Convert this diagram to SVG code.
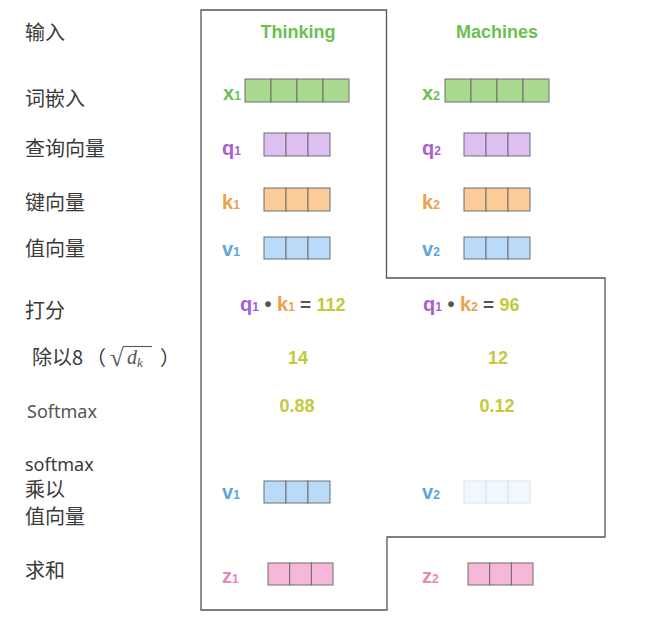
<svg xmlns="http://www.w3.org/2000/svg" width="658" height="638" viewBox="0 0 658 638">
<style>
.lab{font-family:"Noto Sans CJK SC","Noto Sans",sans-serif;font-size:20px;fill:#3a3a3a}
.sm{font-family:"Noto Sans","Noto Sans CJK SC",sans-serif;font-size:18px}
.b{font-family:"Liberation Sans",Arial,sans-serif;font-weight:bold}
.t{font-size:18px;fill:#6cbf4f}
.v{font-size:20px}
.s{font-size:12px}
.num{font-family:"Liberation Sans",Arial,sans-serif;font-weight:bold;font-size:18px;fill:#c4c93c}
.op{fill:#555}
.cell{stroke:#6e6e6e;stroke-width:1}
.g{fill:#a9d98f}.p{fill:#ddbff2}.o{fill:#fbcb99}.bl{fill:#b9daf8}.pk{fill:#f5b8d9}
.fd{fill:#eef8fd;stroke:#dbe6ea;stroke-width:1}
.cg{fill:#6cbf4f}.cp{fill:#a860d2}.co{fill:#f0a04c}.cb{fill:#5aa4e0}.cpk{fill:#e884b8}
</style>

<g id="frame">
<path d="M201,10 H386.5 V278 H605 V537 H387 V610 H201 Z" fill="none" stroke="#555" stroke-width="1.3"/>
</g>

<g id="connectors"></g>

<g id="row-labels">
<text class="lab" x="25" y="40">输入</text>
<text class="lab" x="25" y="106">词嵌入</text>
<text class="lab" x="25" y="156">查询向量</text>
<text class="lab" x="25" y="210">键向量</text>
<text class="lab" x="25" y="256">值向量</text>
<text class="lab" x="25" y="318">打分</text>
<text class="lab" x="32" y="365">除以8</text>
<text class="lab" x="86" y="365">（</text>
<text x="110" y="366" font-family="'Liberation Serif',serif" font-size="25" fill="#555">√</text>
<line x1="123" y1="346.5" x2="152" y2="346.5" stroke="#555" stroke-width="1.1"/>
<text x="127" y="364" font-family="'Liberation Serif',serif" font-style="italic" font-size="20" fill="#555">d<tspan font-size="13" dy="3">k</tspan></text>
<text class="lab" x="160" y="365">）</text>
<text class="lab sm" x="27" y="418" style="fill:#555">Softmax</text>
<text class="lab sm" x="25" y="471">softmax</text>
<text class="lab" x="25" y="497">乘以</text>
<text class="lab" x="25" y="524">值向量</text>
<text class="lab" x="25" y="578">求和</text>
</g>

<g id="title-thinking"><text class="b t" x="298" y="38" text-anchor="middle">Thinking</text></g>
<g id="title-machines"><text class="b t" x="497" y="38" text-anchor="middle">Machines</text></g>

<g id="x1">
<text class="b cg" x="223" y="100"><tspan class="v">x</tspan><tspan class="s">1</tspan></text>
<rect class="cell g" x="245" y="79" width="26" height="23"/><rect class="cell g" x="271" y="79" width="26" height="23"/><rect class="cell g" x="297" y="79" width="26" height="23"/><rect class="cell g" x="323" y="79" width="26" height="23"/>
</g>
<g id="x2">
<text class="b cg" x="422" y="100"><tspan class="v">x</tspan><tspan class="s">2</tspan></text>
<rect class="cell g" x="445" y="79" width="26" height="23"/><rect class="cell g" x="471" y="79" width="26" height="23"/><rect class="cell g" x="497" y="79" width="26" height="23"/><rect class="cell g" x="523" y="79" width="26" height="23"/>
</g>

<g id="q1">
<text class="b cp" x="222" y="155"><tspan class="v">q</tspan><tspan class="s">1</tspan></text>
<rect class="cell p" x="264" y="133" width="22" height="23"/><rect class="cell p" x="286" y="133" width="22" height="23"/><rect class="cell p" x="308" y="133" width="22" height="23"/>
</g>
<g id="q2">
<text class="b cp" x="422" y="155"><tspan class="v">q</tspan><tspan class="s">2</tspan></text>
<rect class="cell p" x="464" y="133" width="22" height="23"/><rect class="cell p" x="486" y="133" width="22" height="23"/><rect class="cell p" x="508" y="133" width="22" height="23"/>
</g>

<g id="k1">
<text class="b co" x="222" y="209"><tspan class="v">k</tspan><tspan class="s">1</tspan></text>
<rect class="cell o" x="264" y="188" width="22" height="23"/><rect class="cell o" x="286" y="188" width="22" height="23"/><rect class="cell o" x="308" y="188" width="22" height="23"/>
</g>
<g id="k2">
<text class="b co" x="422" y="209"><tspan class="v">k</tspan><tspan class="s">2</tspan></text>
<rect class="cell o" x="464" y="188" width="22" height="23"/><rect class="cell o" x="486" y="188" width="22" height="23"/><rect class="cell o" x="508" y="188" width="22" height="23"/>
</g>

<g id="v1">
<text class="b cb" x="222" y="256"><tspan class="v">v</tspan><tspan class="s">1</tspan></text>
<rect class="cell bl" x="264" y="237" width="22" height="22"/><rect class="cell bl" x="286" y="237" width="22" height="22"/><rect class="cell bl" x="308" y="237" width="22" height="22"/>
</g>
<g id="v2">
<text class="b cb" x="422" y="256"><tspan class="v">v</tspan><tspan class="s">2</tspan></text>
<rect class="cell bl" x="464" y="237" width="22" height="22"/><rect class="cell bl" x="486" y="237" width="22" height="22"/><rect class="cell bl" x="508" y="237" width="22" height="22"/>
</g>

<g id="score1">
<text class="b" x="240" y="311"><tspan class="v cp">q</tspan><tspan class="s cp">1</tspan><tspan class="op" font-size="20"> • </tspan><tspan class="v co">k</tspan><tspan class="s co">1</tspan><tspan class="op" font-size="19"> = </tspan><tspan font-size="18" fill="#c4c93c">112</tspan></text>
</g>
<g id="score2">
<text class="b" x="423" y="311"><tspan class="v cp">q</tspan><tspan class="s cp">1</tspan><tspan class="op" font-size="20"> • </tspan><tspan class="v co">k</tspan><tspan class="s co">2</tspan><tspan class="op" font-size="19"> = </tspan><tspan font-size="18" fill="#c4c93c">96</tspan></text>
</g>

<g id="div1"><text class="num" x="298" y="364" text-anchor="middle">14</text></g>
<g id="div2"><text class="num" x="498" y="364" text-anchor="middle">12</text></g>
<g id="soft1"><text class="num" x="297" y="412" text-anchor="middle">0.88</text></g>
<g id="soft2"><text class="num" x="497" y="412" text-anchor="middle">0.12</text></g>

<g id="wv1">
<text class="b cb" x="222" y="499"><tspan class="v">v</tspan><tspan class="s">1</tspan></text>
<rect class="cell bl" x="264" y="481" width="22" height="22"/><rect class="cell bl" x="286" y="481" width="22" height="22"/><rect class="cell bl" x="308" y="481" width="22" height="22"/>
</g>
<g id="wv2">
<text class="b cb" x="422" y="499"><tspan class="v">v</tspan><tspan class="s">2</tspan></text>
<rect class="fd" x="464" y="481" width="22" height="22"/><rect class="fd" x="486" y="481" width="22" height="22"/><rect class="fd" x="508" y="481" width="22" height="22"/>
</g>

<g id="z1">
<text class="b cpk" x="222" y="583"><tspan class="v">z</tspan><tspan class="s">1</tspan></text>
<rect class="cell pk" x="268" y="563" width="21.7" height="22"/><rect class="cell pk" x="289.7" y="563" width="21.7" height="22"/><rect class="cell pk" x="311.4" y="563" width="21.6" height="22"/>
</g>
<g id="z2">
<text class="b cpk" x="422" y="583"><tspan class="v">z</tspan><tspan class="s">2</tspan></text>
<rect class="cell pk" x="468" y="563" width="21.7" height="22"/><rect class="cell pk" x="489.7" y="563" width="21.7" height="22"/><rect class="cell pk" x="511.4" y="563" width="21.6" height="22"/>
</g>
</svg>
